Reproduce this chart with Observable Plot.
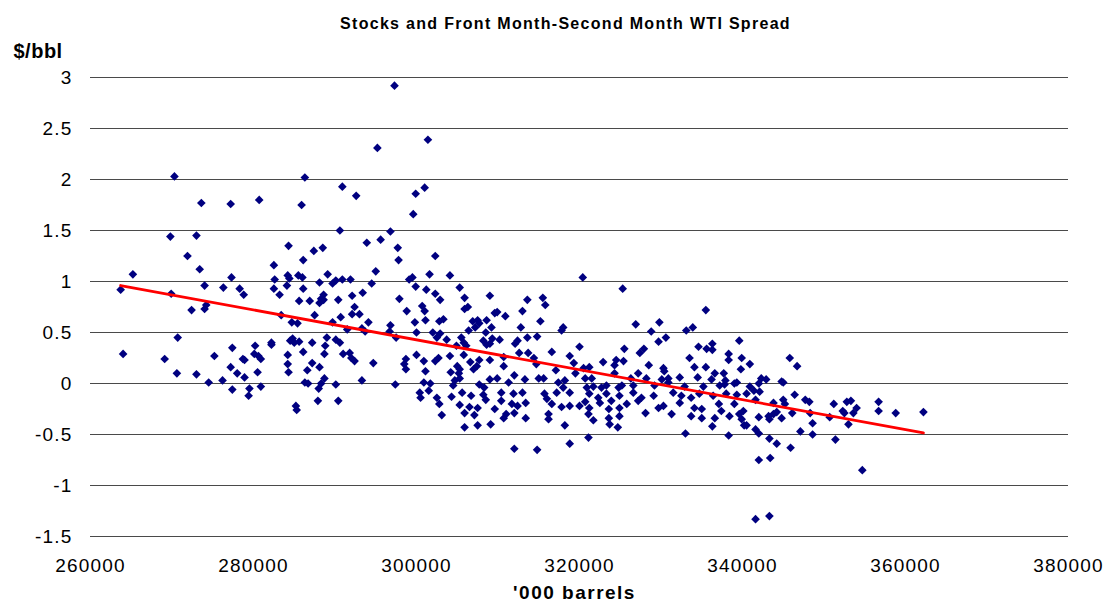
<!DOCTYPE html>
<html><head><meta charset="utf-8">
<script src="https://cdn.jsdelivr.net/npm/d3@7"></script>
<script src="https://cdn.jsdelivr.net/npm/@observablehq/plot@0.6"></script>
<style>
html,body{margin:0;padding:0;background:#fff;}
#chart svg{display:block;}
</style></head><body><div id="chart"></div>
<script>
const title = "Stocks and Front Month-Second Month WTI Spread";
const yTitle = "$/bbl";
const xTitle = "'000 barrels";
const xTicks = [260000, 280000, 300000, 320000, 340000, 360000, 380000];
const yTicks = [-1.5, -1, -0.5, 0, 0.5, 1, 1.5, 2, 2.5, 3];

// crude stocks ('000 barrels)
const stocks = [
 270300,273600,277200,280700,269800,273000,271900,273400,265200,282500,277300,282600,263700,274000,276300,278300,278800,282500,283200,269900,
 272400,274000,274200,283400,270700,264000,269100,275200,277400,280200,282200,282200,278700,278900,280100,280600,280900,277200,278000,278900,
 280500,270600,273000,274500,276200,277400,279500,280900,279400,
 286300,290900,292600,299900,301000,285900,299600,290600,296800,293900,295600,284300,287400,288500,297700,297800,286100,295000,289100,301600,
 284200,285500,286000,284400,288100,290100,290900,291900,289700,299100,299500,294500,284100,299900,286100,301200,288600,292100,293400,285600,
 286900,288100,288600,288300,290400,297900,300700,292400,298800,292100,293000,287500,301000,290700,284700,285400,289700,294100,299800,296800,
 301100,293300,291500,293700,300000,296700,297500,284500,285000,285600,284800,287200,289000,290100,290600,288800,288700,286100,291000,291800,
 292000,292400,284200,284200,284300,287200,286600,288100,294700,298700,298500,298700,300000,300900,301100,286300,286700,288700,288300,288000,
 290100,293300,297400,300900,301700,300400,300500,287900,290400,285200,285300,
 297300,295200,301400,
 302300,304100,320400,305300,302300,302900,305900,309000,313600,315500,315800,305900,306300,309600,309900,313000,310900,302800,303300,306900,
 307500,307700,308600,315200,307200,309200,312800,306400,318000,317800,302000,302900,303700,302500,305500,305800,308500,308200,309000,309300,
 310200,312400,312100,313600,314800,304900,306100,308600,320000,304100,305800,302700,302300,312600,313700,314400,310700,316600,318800,319300,
 306600,307700,309000,307400,307000,305300,305000,314700,310700,317100,320500,321200,304200,305200,305300,312000,319500,304700,304500,309000,
 309900,311300,313300,315000,315600,317400,318200,320700,307700,308300,301500,302500,304300,305600,306700,308200,310400,311900,313000,315700,
 317200,318000,318800,320900,302800,305300,306500,307500,308500,310400,311700,312400,313400,316000,316600,317800,318800,320000,320700,303100,
 305900,307100,309600,311000,312000,310700,313400,316200,316200,321100,305900,307500,309100,318200,321100,312000,314800,318800,
 325300,335500,326900,329800,328800,333100,333900,330600,329700,339600,334600,335600,336300,336300,325500,327900,327400,338300,333500,339900,
 322900,324500,325400,338300,324300,328500,330300,334100,335500,339800,324300,327200,330400,336600,337700,326300,328200,330900,332300,334500,
 336200,337900,339300,321500,321700,322700,323300,324800,325200,326600,329200,330100,330900,332900,335200,337200,337800,339000,321200,322300,
 323300,324900,326600,327600,329100,331500,332500,333700,334700,336400,338000,339300,322500,323900,325800,327200,330300,332300,334100,337100,
 339000,321200,323600,324900,329700,328100,331300,335000,337400,340100,321700,323600,324900,333700,335000,336600,338400,339600,339900,323700,
 324700,336300,340200,333000,338300,
 345800,346700,340900,342300,342900,342000,344800,345000,340900,341400,342100,340500,346400,341600,345000,345200,343800,347700,348200,351200,
 352800,353300,354000,356700,356700,358800,362200,352300,352500,353600,350700,348300,346100,344200,343800,343200,343300,342000,344800,348600,
 353000,340500,341600,342000,347100,348600,343300,344200,351400,345900,342000,343400,354700,341600,343300
];

// front month minus second month WTI spread ($/bbl)
const spread = [
 2.03,1.77,1.76,1.80,1.44,1.45,1.25,1.12,1.07,1.16,1.04,1.02,0.92,0.96,0.94,0.93,0.87,0.93,0.87,0.88,
 0.72,0.73,0.77,0.67,0.45,0.29,0.24,0.27,0.35,0.37,0.40,0.38,0.24,0.23,0.29,0.27,0.24,0.16,0.10,0.06,
 0.11,0.10,0.09,0.01,0.03,-0.06,-0.05,-0.03,-0.12,
 2.02,1.93,1.84,1.86,1.92,1.75,1.66,1.50,1.49,1.38,1.41,1.35,1.30,1.33,1.33,1.21,1.21,1.10,1.07,1.07,
 1.06,1.06,1.04,1.03,0.99,1.01,1.02,1.02,0.98,1.02,1.04,0.98,0.96,0.95,0.93,0.92,0.87,0.86,0.89,0.81,
 0.81,0.79,0.82,0.83,0.82,0.83,0.76,0.75,0.71,0.68,0.68,0.67,0.71,0.65,0.60,0.59,0.60,0.60,0.60,0.57,
 0.62,0.54,0.53,0.51,0.50,0.51,0.45,0.42,0.40,0.41,0.44,0.40,0.45,0.43,0.40,0.37,0.29,0.31,0.29,0.30,
 0.25,0.22,0.28,0.19,0.11,0.20,0.13,0.16,0.20,0.24,0.19,0.14,0.28,0.22,0.12,0.01,0.00,0.05,0.00,-0.05,
 -0.01,0.03,-0.01,0.01,0.00,-0.09,-0.14,-0.17,-0.17,-0.22,-0.26,
 2.92,2.31,2.39,
 1.25,1.06,1.04,0.94,0.88,0.82,0.84,0.86,0.82,0.84,0.77,0.73,0.75,0.69,0.70,0.71,0.66,0.61,0.63,0.61,
 0.62,0.59,0.62,0.61,0.55,0.55,0.55,0.52,0.55,0.52,0.50,0.49,0.43,0.45,0.45,0.40,0.50,0.42,0.39,0.44,
 0.43,0.42,0.39,0.45,0.46,0.37,0.37,0.38,0.36,0.27,0.28,0.25,0.22,0.30,0.30,0.25,0.26,0.31,0.27,0.20,
 0.21,0.23,0.23,0.17,0.14,0.14,0.17,0.19,0.17,0.13,0.15,0.16,0.11,0.10,0.05,0.08,0.10,0.03,-0.02,0.04,
 0.05,0.01,0.04,0.05,0.05,0.01,0.03,0.05,-0.01,-0.04,-0.07,-0.14,-0.13,-0.09,-0.12,-0.11,-0.09,-0.10,-0.09,-0.10,
 -0.09,-0.04,-0.09,-0.04,-0.20,-0.21,-0.23,-0.24,-0.16,-0.17,-0.20,-0.22,-0.19,-0.15,-0.20,-0.23,-0.22,-0.22,-0.18,-0.31,
 -0.29,-0.31,-0.25,-0.30,-0.29,-0.34,-0.34,-0.30,-0.35,-0.30,-0.43,-0.41,-0.40,-0.41,-0.53,-0.64,-0.65,-0.59,
 0.93,0.72,0.58,0.60,0.51,0.52,0.55,0.45,0.41,0.42,0.36,0.34,0.39,0.33,0.34,0.34,0.30,0.29,0.25,0.25,
 0.21,0.23,0.22,0.23,0.18,0.18,0.15,0.16,0.16,0.14,0.10,0.10,0.12,0.10,0.10,0.05,0.05,0.05,0.06,0.06,
 0.04,0.03,0.01,0.05,-0.03,-0.04,-0.02,-0.04,-0.02,-0.02,-0.02,0.04,0.01,-0.03,-0.03,-0.02,-0.01,0.00,-0.10,-0.14,
 -0.10,-0.12,-0.09,-0.14,-0.12,-0.09,-0.12,-0.14,-0.10,-0.12,-0.10,-0.11,-0.19,-0.17,-0.20,-0.17,-0.22,-0.19,-0.24,-0.20,
 -0.20,-0.24,-0.25,-0.24,-0.24,-0.29,-0.30,-0.25,-0.27,-0.27,-0.36,-0.34,-0.32,-0.32,-0.34,-0.34,-0.32,-0.30,-0.35,-0.40,
 -0.43,-0.42,-0.41,-0.49,-0.51,
 0.25,0.17,0.19,0.05,0.04,0.00,0.02,0.01,-0.03,-0.07,-0.08,-0.10,-0.11,-0.16,-0.16,-0.20,-0.19,-0.16,-0.18,-0.20,
 -0.18,-0.17,-0.24,-0.18,-0.27,-0.29,-0.28,-0.27,-0.29,-0.29,-0.33,-0.29,-0.29,-0.28,-0.30,-0.32,-0.35,-0.33,-0.34,-0.39,
 -0.40,-0.41,-0.45,-0.49,-0.47,-0.50,-0.54,-0.59,-0.55,-0.63,-0.75,-0.73,-0.85,-1.33,-1.30
];

const data = stocks.map((x, i) => ({x, y: spread[i]}));
const font = "'Liberation Sans', Arial, sans-serif";

const chart = Plot.plot({
  width: 1106,
  height: 609,
  marginLeft: 90,
  marginRight: 38,
  marginTop: 77,
  marginBottom: 73,
  style: {fontFamily: font, fontSize: "19px", color: "#000", background: "#fff", overflow: "visible"},
  x: {domain: [260000, 380000], ticks: xTicks, tickFormat: d => String(d), tickSize: 0, tickPadding: 22, label: null},
  y: {domain: [-1.5, 3], ticks: yTicks, tickFormat: d => String(d), tickSize: 0, tickPadding: 18, label: null},
  marks: [
    Plot.ruleY(yTicks, {stroke: "#4a4a4a", strokeWidth: 1}),
    Plot.dot(data, {x: "x", y: "y", symbol: "diamond2", r: 3.9, fill: "#000080", stroke: "none"}),
    Plot.linearRegressionY(data, {x: "x", y: "y", stroke: "#ff0000", strokeWidth: 2.8, ci: 0}),
    Plot.text([title], {text: d => d, frameAnchor: "top-left", dx: 475, dy: -60, textAnchor: "middle",
      fontWeight: "bold", fontSize: 16, fill: "#000"}),
    Plot.text([yTitle], {text: d => d, frameAnchor: "top-left", dx: -77, dy: -34, textAnchor: "start",
      fontWeight: "bold", fontSize: 20, fill: "#000"}),
    Plot.text([xTitle], {text: d => d, frameAnchor: "bottom-left", dx: 484, dy: 62, textAnchor: "middle",
      fontWeight: "bold", fontSize: 19, fill: "#000"})
  ]
});
document.getElementById("chart").appendChild(chart);

// letter spacing to match the wide lettering of the original
const spacing = new Map([[title, "1.3px"], [yTitle, "0.5px"], [xTitle, "1.5px"]]);
d3.select(chart).selectAll("text").each(function() {
  const t = this.textContent;
  this.style.letterSpacing = spacing.has(t) ? spacing.get(t) : "1.2px";
});
</script></body></html>
